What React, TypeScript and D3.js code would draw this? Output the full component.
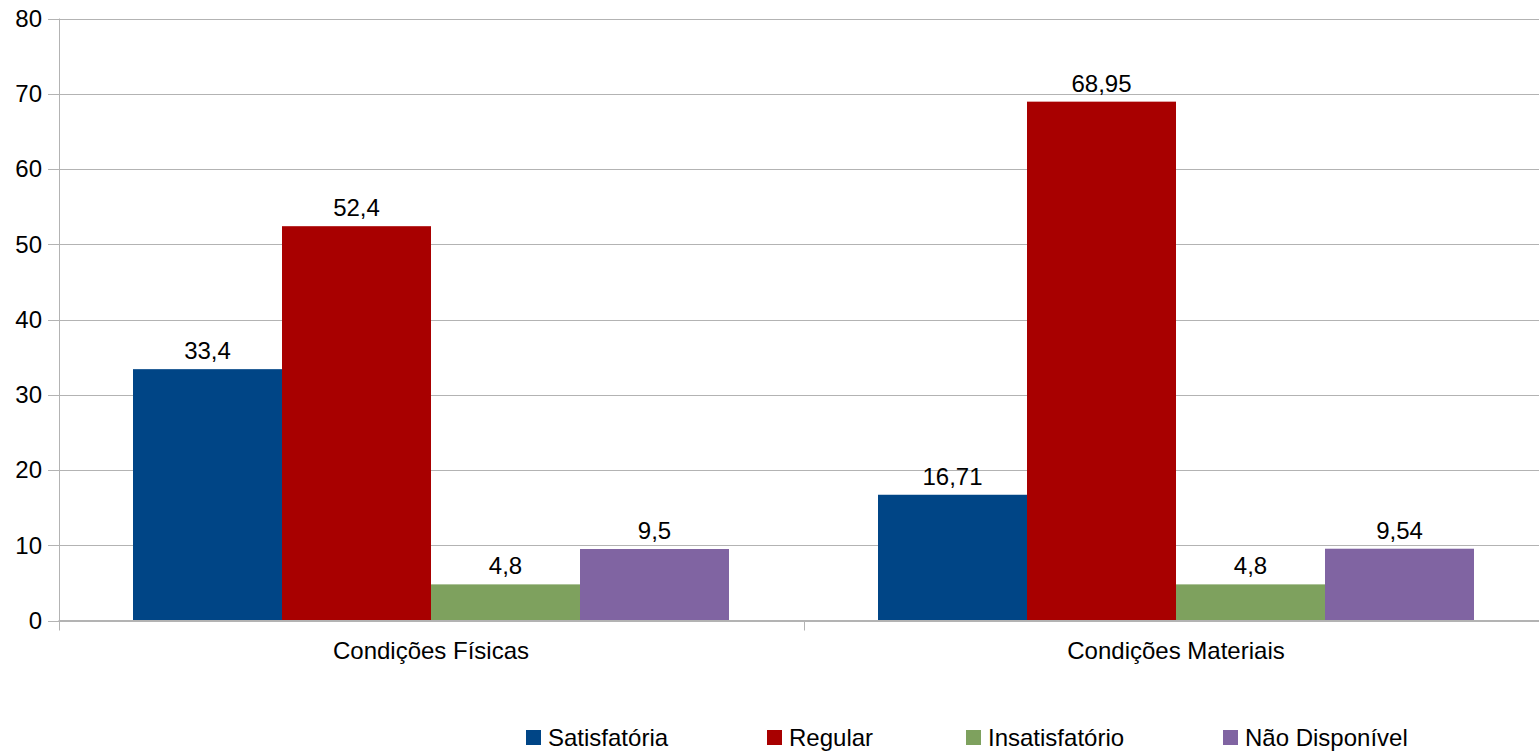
import React, { useEffect, useRef } from "react";
import * as d3 from "d3";

const categories = ["Condições Físicas", "Condições Materiais"];
const seriesNames = ["Satisfatória", "Regular", "Insatisfatório", "Não Disponível"];
const seriesColors = ["#004586", "#a80000", "#7ea15e", "#8064a2"];
// values per series, one per category
const satisfatoria = [33.4, 16.71];
const regular = [52.4, 68.95];
const insatisfatorio = [4.8, 4.8];
const naoDisponivel = [9.5, 9.54];
const yTicks = [0, 10, 20, 30, 40, 50, 60, 70, 80];

const App = () => {
  const ref = useRef<SVGSVGElement>(null);

  useEffect(() => {
    const width = 1539;
    const height = 754;
    const left = 58.5;
    const right = 1539;
    const top = 18.5;
    const bottom = 620.5;
    const font = "'Liberation Sans', Arial, sans-serif";
    const fs = 24;

    const svg = d3.select(ref.current).attr("width", width).attr("height", height);
    svg.selectAll("*").remove();

    const values = [satisfatoria, regular, insatisfatorio, naoDisponivel];

    // category band runs a bit past the right edge, as in the original
    const x = d3.scaleBand<string>().domain(categories).range([left, 1548.5]).padding(0);
    const bw = x.bandwidth();
    const inner = d3.scaleBand<string>().domain(seriesNames).range([bw * 0.1, bw * 0.9]).padding(0);
    const y = d3.scaleLinear().domain([0, 80]).range([bottom, top]);

    // grid
    svg.append("g").selectAll("line").data(yTicks).join("line")
      .attr("x1", 48).attr("x2", right)
      .attr("y1", d => Math.round(y(d)) + 0.5).attr("y2", d => Math.round(y(d)) + 0.5)
      .attr("stroke", "#b3b3b3").attr("stroke-width", 1);

    // y labels
    svg.append("g").selectAll("text").data(yTicks).join("text")
      .attr("x", 42).attr("y", d => y(d)).attr("dy", "0.35em")
      .attr("text-anchor", "end").attr("font-family", font).attr("font-size", fs)
      .attr("fill", "#000").text(d => d);

    // bars
    seriesNames.forEach((s, si) => {
      const g = svg.append("g");
      g.selectAll("rect").data(values[si]).join("rect")
        .attr("x", (_, i) => x(categories[i])! + inner(s)!)
        .attr("y", d => y(d))
        .attr("width", inner.bandwidth())
        .attr("height", d => bottom - y(d))
        .attr("fill", seriesColors[si]);
      g.selectAll("text").data(values[si]).join("text")
        .attr("x", (_, i) => x(categories[i])! + inner(s)! + inner.bandwidth() / 2)
        .attr("y", d => y(d) - 10)
        .attr("text-anchor", "middle").attr("font-family", font).attr("font-size", fs)
        .text(d => String(d).replace(".", ","));
    });

    // axes lines
    svg.append("line").attr("x1", 59.5).attr("x2", 59.5).attr("y1", top).attr("y2", bottom + 10)
      .attr("stroke", "#b3b3b3");
    svg.append("line").attr("x1", left).attr("x2", right).attr("y1", bottom).attr("y2", bottom)
      .attr("stroke", "#b3b3b3");
    const catTicks = [left + bw];
    svg.append("g").selectAll("line").data(catTicks).join("line")
      .attr("x1", d => Math.round(d) + 0.5).attr("x2", d => Math.round(d) + 0.5)
      .attr("y1", bottom).attr("y2", bottom + 10).attr("stroke", "#b3b3b3");

    // category labels
    svg.append("g").selectAll("text").data(categories).join("text")
      .attr("x", d => x(d)! + bw / 2).attr("y", 659)
      .attr("text-anchor", "middle").attr("font-family", font).attr("font-size", fs)
      .text(d => d);

    // legend
    const legendX = [526, 767, 966, 1223];
    const lg = svg.append("g");
    seriesNames.forEach((s, i) => {
      lg.append("rect").attr("x", legendX[i]).attr("y", 730).attr("width", 15).attr("height", 15)
        .attr("fill", seriesColors[i]);
      lg.append("text").attr("x", legendX[i] + 22).attr("y", 746)
        .attr("font-family", font).attr("font-size", fs).text(s);
    });
  }, []);

  return <svg ref={ref} style={{ position: "absolute", left: 0, top: 0 }}></svg>;
};

export default App;
